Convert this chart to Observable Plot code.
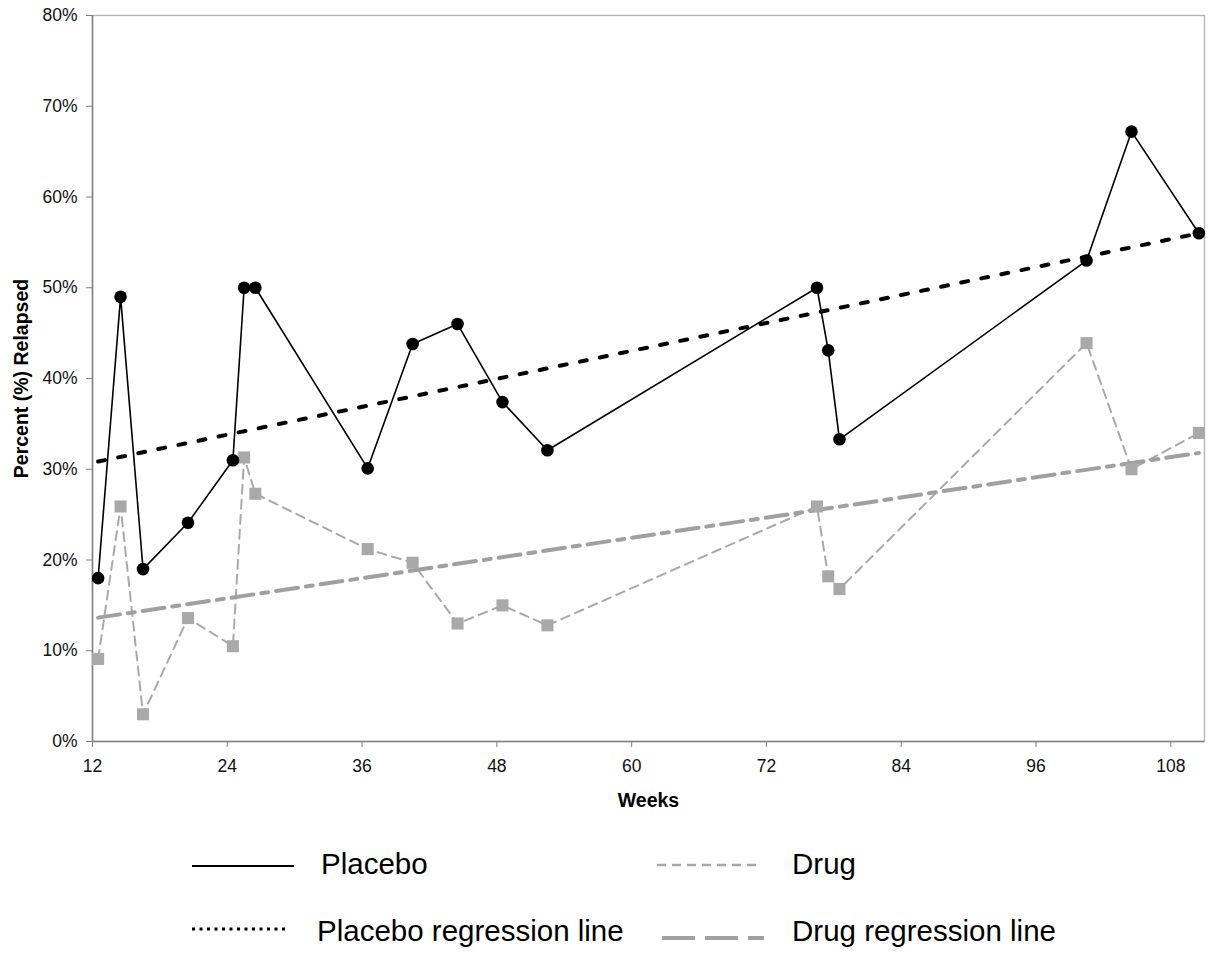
<!DOCTYPE html>
<html>
<head>
<meta charset="utf-8">
<script src="https://cdn.jsdelivr.net/npm/d3@7"></script>
<script src="https://cdn.jsdelivr.net/npm/@observablehq/plot@0.6"></script>
<style>
  html, body { margin: 0; padding: 0; background: #fff; }
  #chart { width: 1212px; font-family: "Liberation Sans", Arial, sans-serif; }
  #chart svg { display: block; }
</style>
</head>
<body>
<div id="chart"></div>
<script>
// Data
const weeks = [12.5, 14.5, 16.5, 20.5, 24.5, 25.5, 26.5, 36.5, 40.5, 44.5, 48.5, 52.5, 76.5, 77.5, 78.5, 100.5, 104.5, 110.5];
const placebo = [18.0, 49.0, 19.0, 24.1, 31.0, 50.0, 50.0, 30.1, 43.8, 46.0, 37.4, 32.1, 50.0, 43.1, 33.3, 53.0, 67.2, 56.0];
const drug = [9.1, 25.9, 3.0, 13.6, 10.5, 31.3, 27.3, 21.2, 19.7, 13.0, 15.0, 12.8, 25.9, 18.2, 16.8, 43.9, 30.0, 34.0];
const regWeeks = [12.5, 110.5];
const placeboReg = [30.85, 56.0];
const drugReg = [13.65, 31.8];
const xTicks = [12, 24, 36, 48, 60, 72, 84, 96, 108];
const yTicks = [0, 10, 20, 30, 40, 50, 60, 70, 80];
const xLabel = "Weeks";
const yLabel = "Percent (%) Relapsed";
const legendItems = ["Placebo", "Drug", "Placebo regression line", "Drug regression line"];

const placeboData = weeks.map((w, i) => ({week: w, value: placebo[i]}));
const drugData = weeks.map((w, i) => ({week: w, value: drug[i]}));
const placeboRegData = regWeeks.map((w, i) => ({week: w, value: placeboReg[i]}));
const drugRegData = regWeeks.map((w, i) => ({week: w, value: drugReg[i]}));

const GRAY = "#a9a9a9";
const FONT = "'Liberation Sans', Arial, sans-serif";

const chart = Plot.plot({
  width: 1212,
  height: 820,
  marginLeft: 92,
  marginRight: 8,
  marginTop: 15,
  marginBottom: 79,
  style: {fontFamily: FONT, fontSize: "17.5px", color: "#111", background: "#fff"},
  x: {domain: [12, 111]},
  y: {domain: [0, 80]},
  marks: [
    Plot.frame({stroke: "#b3b3b3", strokeWidth: 1.3}),
    Plot.ruleX([12], {stroke: "#808080", strokeWidth: 1.5}),
    Plot.ruleY([0], {stroke: "#808080", strokeWidth: 1.5}),
    Plot.axisX({ticks: xTicks, tickSize: 6, tickPadding: 12, stroke: "#808080", fill: "#111", fontSize: 17.5, label: null}),
    Plot.axisY({ticks: yTicks, tickSize: 6, tickPadding: 9, stroke: "#808080", fill: "#111", fontSize: 17.5, tickFormat: d => d + "%", label: null}),
    Plot.text([xLabel], {frameAnchor: "bottom", dy: 59, lineAnchor: "middle", text: d => d, fontSize: 19.5, fontWeight: "bold", fill: "#000"}),
    Plot.text([yLabel], {frameAnchor: "left", dx: -71, dy: 0, rotate: -90, textAnchor: "middle", lineAnchor: "middle", text: d => d, fontSize: 19.5, fontWeight: "bold", fill: "#000"}),
    Plot.line(drugData, {x: "week", y: "value", stroke: GRAY, strokeWidth: 2, strokeDasharray: "9,6"}),
    Plot.line(placeboData, {x: "week", y: "value", stroke: "#000", strokeWidth: 1.6}),
    Plot.line(placeboRegData, {x: "week", y: "value", stroke: "#000", strokeWidth: 4, strokeDasharray: "7,13.5"}),
    Plot.line(drugRegData, {x: "week", y: "value", stroke: "#a0a0a0", strokeWidth: 4, strokeDasharray: "22,8,7,8"}),
    Plot.dot(drugData, {x: "week", y: "value", symbol: "square", r: 6.8, fill: GRAY, stroke: "none"}),
    Plot.dot(placeboData, {x: "week", y: "value", symbol: "circle", r: 6.3, fill: "#000", stroke: "none"})
  ]
});
document.getElementById("chart").appendChild(chart);

// Legend below the plot
const lg = d3.select("#chart").append("svg")
  .attr("width", 1212)
  .attr("height", 134)
  .style("font-family", FONT);

const legendSpec = [
  {label: legendItems[0], x1: 192, x2: 294, y: 46, tx: 321, ty: 44, stroke: "#000", width: 2, dash: null},
  {label: legendItems[1], x1: 657, x2: 760, y: 45, tx: 792, ty: 44, stroke: GRAY, width: 2.5, dash: "9,6"},
  {label: legendItems[2], x1: 192, x2: 289, y: 109, tx: 317, ty: 111, stroke: "#000", width: 3, dash: "3,4.5"},
  {label: legendItems[3], x1: 662, x2: 764, y: 118, tx: 792, ty: 111, stroke: "#a0a0a0", width: 4, dash: "33,10"}
];
legendSpec.forEach(d => {
  const l = lg.append("line").attr("x1", d.x1).attr("x2", d.x2).attr("y1", d.y).attr("y2", d.y)
    .attr("stroke", d.stroke).attr("stroke-width", d.width);
  if (d.dash) l.attr("stroke-dasharray", d.dash);
  lg.append("text").attr("x", d.tx).attr("y", d.ty)
    .attr("dy", "0.35em").attr("font-size", 29.5).attr("fill", "#000").text(d.label);
});
</script>
</body>
</html>
